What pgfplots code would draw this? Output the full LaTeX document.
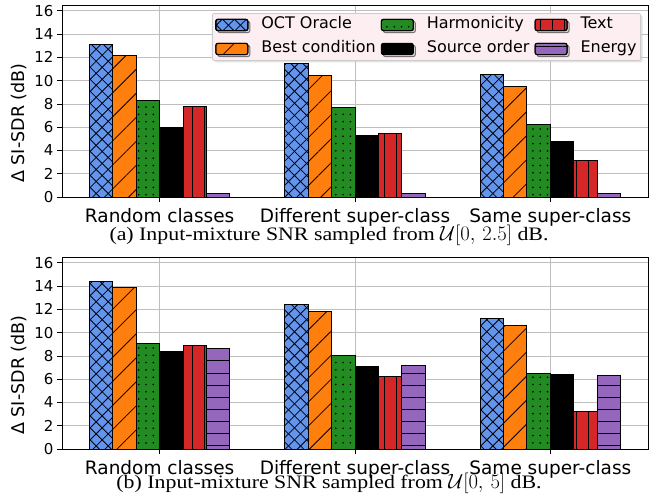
\documentclass[border=0pt]{standalone}
\usepackage{fontspec}
\setmainfont{DejaVu Sans}
\newfontfamily\capfont[FakeStretch=1.15]{Liberation Serif}
\usepackage{pgfplots}
\pgfplotsset{compat=1.18}
\usetikzlibrary{patterns.meta,shadows}
\definecolor{coct}{HTML}{6495ED}
\definecolor{cbest}{HTML}{FF7F0E}
\definecolor{charm}{HTML}{228B22}
\definecolor{ctext}{HTML}{D62728}
\definecolor{cenergy}{HTML}{9467BD}
\definecolor{gridgray}{HTML}{BEBEBE}
\definecolor{legpink}{HTML}{FDEEF2}
\definecolor{leggray}{HTML}{CCCCCC}
\pgfplotsset{
  sOCT/.style={fill=coct, bar shift=-0.30,
    postaction={pattern={Lines[angle=45,distance=8.5bp,line width=0.8bp]}},
    postaction={pattern={Lines[angle=-45,distance=8.5bp,line width=0.8bp]}}},
  sBest/.style={fill=cbest, bar shift=-0.18,
    postaction={pattern={Lines[angle=45,distance=17bp,line width=0.8bp]}}},
  sHarm/.style={fill=charm, bar shift=-0.06,
    postaction={pattern={Dots[distance=7.3bp,radius=0.9bp]}}},
  sSrc/.style={fill=black, bar shift=0.06},
  sText/.style={fill=ctext, bar shift=0.18,
    postaction={pattern={Lines[angle=90,distance=12bp,line width=0.8bp]}}},
  sEn/.style={fill=cenergy, bar shift=0.30,
    postaction={pattern={Lines[angle=0,distance=12.1bp,line width=0.8bp]}}},
  base/.style={
    width=586bp, height=192bp, scale only axis,
    anchor=south west,
    xmin=-0.5, xmax=2.5, ymin=0, ymax=16.5,
    xtick={0,1,2},
    xticklabels={Random classes, Different super-class, Same super-class},
    ytick={0,2,...,16},
    grid=major, major grid style={color=gridgray, line width=0.8bp},
    tick align=outside, major tick length=5bp,
    tick style={black, line width=0.8bp},
    tick pos=left,
    axis line style={line width=1bp},
    /pgf/number format/assume math mode=true,
    yticklabel style={font=\fontsize{15bp}{18bp}\selectfont},
    xticklabel style={font=\fontsize{18.5bp}{22bp}\selectfont, inner sep=1bp, yshift=-5.2bp},
    ylabel={Δ SI-SDR (dB)},
    ylabel style={font=\fontsize{17.5bp}{21bp}\selectfont, at={(axis description cs:-0.0734,0.385)}, anchor=center},
    ybar, bar width=0.12,
    every axis plot/.append style={draw=black, line width=1bp,
      legend image code/.code={\draw[##1] (0bp,-5.6bp) rectangle (32bp,5.6bp);}},
  }
}
\begin{document}
\begin{tikzpicture}
\path[use as bounding box] (0,0) rectangle (654bp,-494bp);
\begin{axis}[base, at={(62bp,-197bp)},
  legend columns=2, transpose legend,
  legend style={at={(axis description cs:0.988,0.958)}, anchor=north east,
    fill=legpink, draw=leggray, rounded corners=2bp, line width=0.8bp,
    font=\fontsize{16bp}{19bp}\selectfont,
    inner sep=3bp, row sep=7bp,
    nodes={inner sep=1bp, text height=11.5bp, text depth=3.5bp},
    /tikz/every odd column/.append style={column sep=12bp},
    /tikz/every even column/.append style={column sep=4bp},
    drop shadow={shadow xshift=2bp, shadow yshift=-2bp, fill=gray!45}},
  legend cell align=left]
\addplot[sOCT] coordinates {(0,13.1) (1,11.5) (2,10.5)};
\addplot[sBest] coordinates {(0,12.2) (1,10.45) (2,9.5)};
\addplot[sHarm] coordinates {(0,8.3) (1,7.7) (2,6.2)};
\addplot[sSrc] coordinates {(0,5.95) (1,5.25) (2,4.8)};
\addplot[sText] coordinates {(0,7.8) (1,5.5) (2,3.1)};
\addplot[sEn] coordinates {(0,0.3) (1,0.3) (2,0.3)};
\legend{OCT Oracle, Best condition, Harmonicity, Source order, Text, Energy}
\end{axis}
\begin{axis}[base, at={(62bp,-449bp)}]
\addplot[sOCT] coordinates {(0,14.4) (1,12.4) (2,11.2)};
\addplot[sBest] coordinates {(0,13.9) (1,11.8) (2,10.6)};
\addplot[sHarm] coordinates {(0,9.1) (1,8.0) (2,6.5)};
\addplot[sSrc] coordinates {(0,8.4) (1,7.1) (2,6.4)};
\addplot[sText] coordinates {(0,8.9) (1,6.2) (2,3.2)};
\addplot[sEn] coordinates {(0,8.6) (1,7.2) (2,6.3)};
\end{axis}
\node[anchor=base, inner sep=0pt] at (329bp,-240bp) {\capfont\fontsize{19bp}{21bp}\selectfont (a) Input-mixture SNR sampled from $\mathcal{U}[0,\,2.5]$ dB.};
\node[anchor=base, inner sep=0pt] at (329bp,-488bp) {\capfont\fontsize{19bp}{21bp}\selectfont (b) Input-mixture SNR sampled from $\mathcal{U}[0,\,5]$ dB.};
\end{tikzpicture}
\end{document}
